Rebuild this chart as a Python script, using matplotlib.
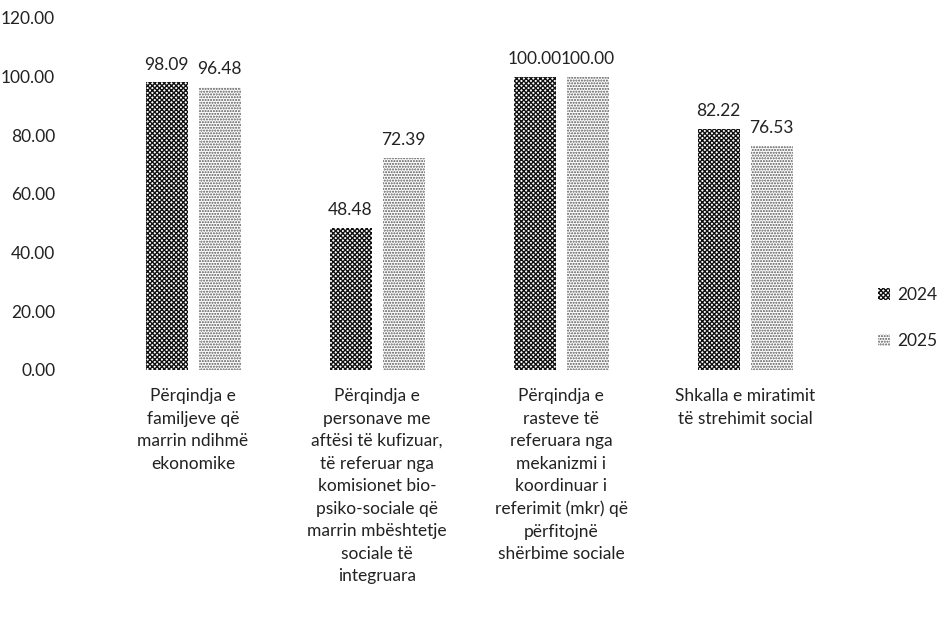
import matplotlib.pyplot as plt
import numpy as np

plt.rcParams['font.family'] = ['Lato', 'DejaVu Sans']

categories = [
    'Përqindja e\nfamiljeve që\nmarrin ndihmë\nekonomike',
    'Përqindja e\npersonave me\naftësi të kufizuar,\ntë referuar nga\nkomisionet bio-\npsiko-sociale që\nmarrin mbështetje\nsociale të\nintegruara',
    'Përqindja e\nrasteve të\nreferuara nga\nmekanizmi i\nkoordinuar i\nreferimit (mkr) që\npërfitojnë\nshërbime sociale',
    'Shkalla e miratimit\ntë strehimit social',
]
years = ['2024', '2025']
v2024 = [98.09, 48.48, 100.00, 82.22]
v2025 = [96.48, 72.39, 100.00, 76.53]

fs = 12.5
fig = plt.figure(figsize=(9.46, 6.38), dpi=100)
ax = fig.add_axes([101/946, 268/638, 736/946, 352/638])

x = np.arange(len(categories))
w = 42/184
gap = 11/184
off = (w + gap)/2

b1 = ax.bar(x - off, v2024, w, color='white', edgecolor='#111111', hatch='xxxxxxx', linewidth=0, label=years[0])
b2 = ax.bar(x + off, v2025, w, color='white', edgecolor='#555555', hatch='......', linewidth=0, label=years[1])

for bars in (b1, b2):
    for r in bars:
        ax.annotate(f'{r.get_height():.2f}', (r.get_x() + r.get_width()/2, r.get_height()),
                    xytext=(0, 7), textcoords='offset points', ha='center', va='bottom',
                    fontsize=fs, color='#222222')

ax.set_xlim(-0.5, len(categories) - 0.5)
ax.set_ylim(0, 120)
ax.set_yticks(np.arange(0, 121, 20))
ax.set_yticklabels([f'{t:.2f}' for t in np.arange(0, 121, 20)], fontsize=fs, color='#222222')
ax.set_xticks(x)
ax.set_xticklabels(categories, fontsize=fs, color='#222222', linespacing=1.5, va='top')
ax.tick_params(axis='x', length=0, pad=13)
ax.tick_params(axis='y', length=0, pad=33)
for s in ax.spines.values():
    s.set_visible(False)

fig.legend(loc='center left', bbox_to_anchor=(862/946, 1 - 318/638), frameon=False,
           fontsize=fs, handlelength=0.7, handleheight=0.7, handletextpad=0.4,
           labelspacing=1.7, labelcolor='#222222')

fig.savefig('out.png', dpi=100)
